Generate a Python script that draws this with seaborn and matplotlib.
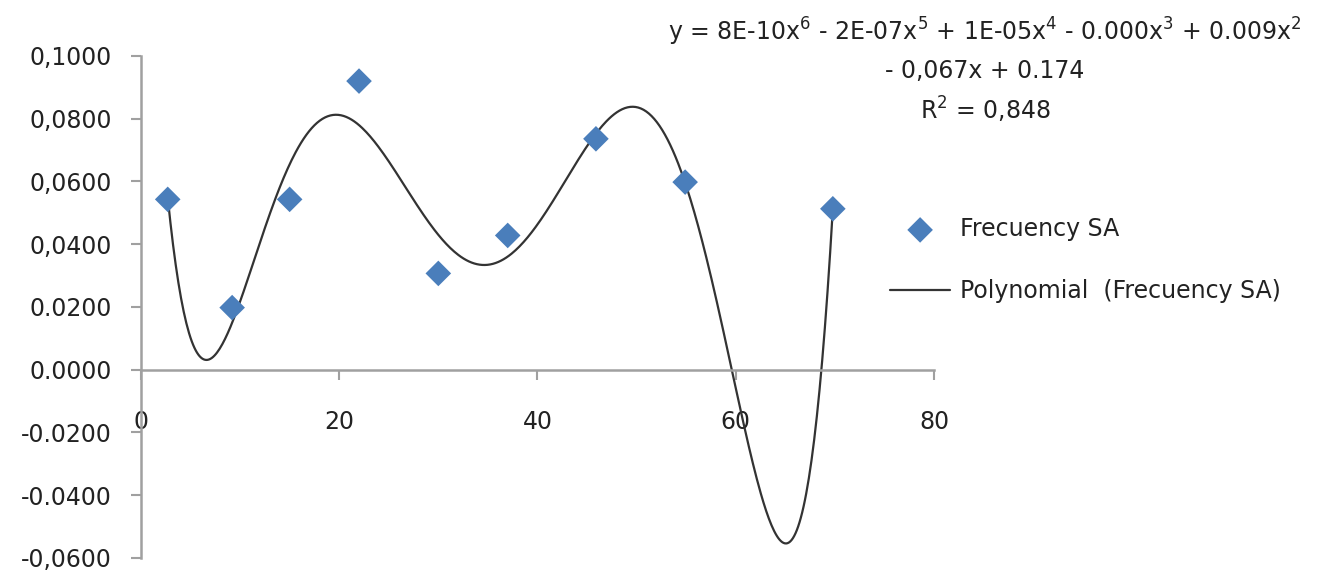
import numpy as np
import pandas as pd
import matplotlib
matplotlib.use('Agg')
import matplotlib.pyplot as plt
import seaborn as sns

# Data
x_vals = [2.7, 9.2, 15.0, 22.0, 30.0, 37.0, 45.9, 54.9, 69.8]
freq_sa = [0.0543, 0.0198, 0.0543, 0.0920, 0.0307, 0.0428, 0.0736, 0.0598, 0.0513]

x_ticks = [0, 20, 40, 60, 80]
y_ticks = [-0.06, -0.04, -0.02, 0.0, 0.02, 0.04, 0.06, 0.08, 0.10]
y_tick_labels = ['-0,0600', '-0.0400', '-0.0200', '0.0000', '0.0200',
                 '0,0400', '0,0600', '0,0800', '0,1000']
eq_lines = ['y = 8E-10x$^{6}$ - 2E-07x$^{5}$ + 1E-05x$^{4}$ - 0.000x$^{3}$ + 0.009x$^{2}$',
            '- 0,067x + 0.174',
            'R$^{2}$ = 0,848']

pts = pd.DataFrame({'x': x_vals, 'y': freq_sa})

# 6th order polynomial trendline, like the Excel one
coef = np.polyfit(pts['x'], pts['y'], 6)
xs = np.linspace(pts['x'].min(), pts['x'].max(), 500)
trend = pd.DataFrame({'x': xs, 'y': np.polyval(coef, xs)})

sns.set_style('white')
plt.rcParams['font.family'] = ['DejaVu Sans']
plt.rcParams['mathtext.default'] = 'regular'

fig = plt.figure(figsize=(13.21, 5.73), dpi=100)
ax = fig.add_axes([0.1067, 0.0262, 0.6003, 0.8761])

sns.lineplot(data=trend, x='x', y='y', ax=ax, color='#333333', linewidth=1.6,
             label='Polynomial  (Frecuency SA)')
sns.scatterplot(data=pts, x='x', y='y', ax=ax, marker='D', s=170,
                color='#4a7ebb', edgecolor='none', label='Frecuency SA', zorder=3)

ax.set_xlim(0, 80)
ax.set_ylim(-0.06, 0.10)
ax.set_xticks(x_ticks)
ax.set_yticks(y_ticks)
ax.set_yticklabels(y_tick_labels)
ax.set_xlabel('')
ax.set_ylabel('')

for s in ['top', 'right']:
    ax.spines[s].set_visible(False)
for s in ['left', 'bottom']:
    ax.spines[s].set_color('#a0a0a0')
    ax.spines[s].set_linewidth(1.8)
ax.spines['bottom'].set_position(('data', 0))

ax.tick_params(axis='both', direction='out', length=7, width=1.5, color='#a0a0a0',
               labelsize=17, labelcolor='#222222', bottom=True, left=True)
ax.tick_params(axis='y', pad=14)
ax.tick_params(axis='x', pad=22)

handles, labels = ax.get_legend_handles_labels()
ax.legend(handles[::-1], labels[::-1], loc='center left',
          bbox_to_anchor=(890 / 1321, 1 - 260 / 573), bbox_transform=fig.transFigure,
          frameon=False, fontsize=17, handlelength=2.55, handletextpad=0.4,
          labelspacing=1.6, borderpad=0, borderaxespad=0, labelcolor='#222222')

for i, line in enumerate(eq_lines):
    fig.text(985 / 1321, 1 - (32 + 39 * i) / 573, line, ha='center', va='center',
             fontsize=17, color='#222222')

fig.savefig('out.png', dpi=100)
